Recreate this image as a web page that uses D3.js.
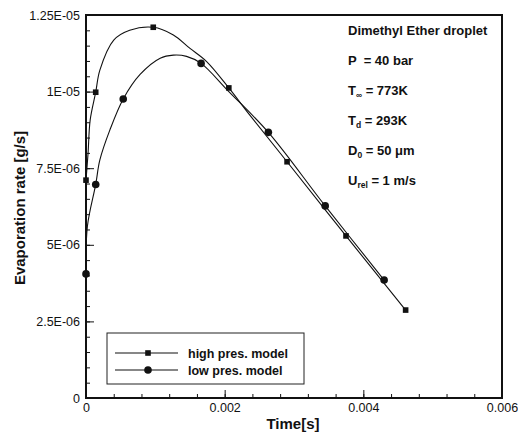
<!DOCTYPE html>
<html>
<head>
<meta charset="utf-8">
<script src="https://cdn.jsdelivr.net/npm/d3@7"></script>
<style>
  html, body { margin: 0; padding: 0; background: #fff; }
  svg { display: block; font-family: "Liberation Sans", Arial, sans-serif; }
</style>
</head>
<body>
<svg id="chart" width="518" height="434"></svg>
<script>
// Evaporation rate of a dimethyl ether droplet, two property models
const highCurveT    = [0, 0.00003, 0.00006, 0.00014, 0.0002, 0.0004, 0.00063, 0.00097, 0.00126, 0.0015, 0.00174, 0.00206, 0.00236, 0.0029, 0.00375, 0.00461];
const highCurveRate = [7.11e-6, 8.0e-6, 9.07e-6, 9.98e-6, 1.07e-5, 1.168e-5, 1.20e-5, 1.21e-5, 1.185e-5, 1.141e-5, 1.098e-5, 1.012e-5, 9.24e-6, 7.71e-6, 5.29e-6, 2.87e-6];
const highMarkT     = [0, 0.00014, 0.00097, 0.00206, 0.0029, 0.00375, 0.00461];
const highMarkRate  = [7.11e-6, 9.98e-6, 1.21e-5, 1.012e-5, 7.71e-6, 5.29e-6, 2.87e-6];

const lowCurveT    = [0, 0.00002, 0.00014, 0.0002, 0.000345, 0.000537, 0.00078, 0.00107, 0.00126, 0.00145, 0.00166, 0.00206, 0.00263, 0.00345, 0.0043];
const lowCurveRate = [4.05e-6, 5.6e-6, 6.97e-6, 7.77e-6, 8.75e-6, 9.76e-6, 1.056e-5, 1.109e-5, 1.119e-5, 1.115e-5, 1.092e-5, 1.0e-5, 8.67e-6, 6.27e-6, 3.85e-6];
const lowMarkT     = [0, 0.00014, 0.000537, 0.00166, 0.00263, 0.00345, 0.0043];
const lowMarkRate  = [4.05e-6, 6.97e-6, 9.76e-6, 1.092e-5, 8.67e-6, 6.27e-6, 3.85e-6];

const xTicks = [0, 0.002, 0.004, 0.006];
const xTickLabels = ["0", "0.002", "0.004", "0.006"];
const yTicks = [0, 2.5e-6, 5e-6, 7.5e-6, 1e-5, 1.25e-5];
const yTickLabels = ["0", "2.5E-06", "5E-06", "7.5E-06", "1E-05", "1.25E-05"];
const legendLabels = ["high pres. model", "low pres. model"];

const svg = d3.select("#chart");
const plotL = 86, plotR = 502, plotT = 15, plotB = 398;

const x = d3.scaleLinear().domain([0, 0.006]).range([plotL, plotR]);
const y = d3.scaleLinear().domain([0, 1.25e-5]).range([plotB, plotT]);

// minor ticks (inward)
const xMinor = d3.range(0, 0.006 + 1e-9, 0.0004);
const yMinor = d3.range(0, 1.25e-5 + 1e-12, 5e-7);

const axX = svg.append("g").attr("transform", `translate(0,${plotB})`);
axX.call(d3.axisBottom(x).tickValues(xMinor).tickSize(-4).tickFormat(""));
axX.append("g").call(d3.axisBottom(x).tickValues(xTicks).tickSize(-8).tickFormat((d, i) => xTickLabels[i]));
const axY = svg.append("g").attr("transform", `translate(${plotL},0)`);
axY.call(d3.axisLeft(y).tickValues(yMinor).tickSize(-4).tickFormat(""));
axY.append("g").call(d3.axisLeft(y).tickValues(yTicks).tickSize(-8).tickFormat((d, i) => yTickLabels[i]));

svg.selectAll(".domain").remove();
svg.selectAll(".tick line").attr("stroke", "#111").attr("stroke-width", 1);
svg.selectAll(".tick text").attr("fill", "#111").attr("font-size", 12.5);
axX.selectAll(".tick text").attr("y", 5).attr("dy", "0.71em");
axY.selectAll(".tick text").attr("x", -6);

// frame
svg.append("rect")
  .attr("x", plotL).attr("y", plotT)
  .attr("width", plotR - plotL).attr("height", plotB - plotT)
  .attr("fill", "none").attr("stroke", "#111").attr("stroke-width", 2);

// curves
const line = d3.line().x(d => x(d[0])).y(d => y(d[1])).curve(d3.curveCatmullRom.alpha(0.5));
const highPts = highCurveT.map((t, i) => [t, highCurveRate[i]]);
const lowPts = lowCurveT.map((t, i) => [t, lowCurveRate[i]]);

svg.append("path").datum(highPts).attr("d", line)
  .attr("fill", "none").attr("stroke", "#111").attr("stroke-width", 1.1);
svg.append("path").datum(lowPts).attr("d", line)
  .attr("fill", "none").attr("stroke", "#111").attr("stroke-width", 1.1);

// markers
svg.append("g").selectAll("rect")
  .data(highMarkT.map((t, i) => [t, highMarkRate[i]]))
  .join("rect")
  .attr("x", d => x(d[0]) - 2.8).attr("y", d => y(d[1]) - 2.8)
  .attr("width", 5.6).attr("height", 5.6).attr("fill", "#111");
svg.append("g").selectAll("circle")
  .data(lowMarkT.map((t, i) => [t, lowMarkRate[i]]))
  .join("circle")
  .attr("cx", d => x(d[0])).attr("cy", d => y(d[1]))
  .attr("r", 3.8).attr("fill", "#111");

// axis titles
svg.append("text")
  .attr("x", 293).attr("y", 429)
  .attr("text-anchor", "middle").attr("font-size", 15).attr("font-weight", "bold")
  .attr("fill", "#111").text("Time[s]");
svg.append("text")
  .attr("transform", `translate(25,208) rotate(-90)`)
  .attr("text-anchor", "middle").attr("font-size", 15).attr("font-weight", "bold")
  .attr("fill", "#111").text("Evaporation rate [g/s]");

// legend
const lg = svg.append("g");
lg.append("rect").attr("x", 107).attr("y", 333).attr("width", 197).attr("height", 51)
  .attr("fill", "#fff").attr("stroke", "#222").attr("stroke-width", 1);
legendLabels.forEach((lab, i) => {
  const yy = 353 + i * 17;
  lg.append("line").attr("x1", 115).attr("x2", 178).attr("y1", yy).attr("y2", yy)
    .attr("stroke", "#111").attr("stroke-width", 1.1);
  if (i === 0) {
    lg.append("rect").attr("x", 148 - 2.8).attr("y", yy - 2.8).attr("width", 5.6).attr("height", 5.6).attr("fill", "#111");
  } else {
    lg.append("circle").attr("cx", 148).attr("cy", yy).attr("r", 3.8).attr("fill", "#111");
  }
  lg.append("text").attr("x", 188).attr("y", yy + 4.5)
    .attr("font-size", 12.5).attr("font-weight", "bold").attr("fill", "#111").text(lab);
});

// run conditions
const ann = svg.append("g").attr("font-size", 13).attr("font-weight", "bold").attr("fill", "#111");
const ax0 = 348;
ann.append("text").attr("x", ax0).attr("y", 35).text("Dimethyl Ether droplet");
ann.append("text").attr("x", ax0).attr("y", 65).attr("xml:space", "preserve").text("P  = 40 bar");
function subText(yy, main, sub, rest) {
  const t = ann.append("text").attr("x", ax0).attr("y", yy);
  t.append("tspan").text(main);
  t.append("tspan").attr("dy", 3).attr("font-size", 8.5).text(sub);
  t.append("tspan").attr("dy", -3).text(rest);
}
subText(95, "T", "\u221e", " = 773K");
subText(125, "T", "d", " = 293K");
subText(155, "D", "0", " = 50 \u03bcm");
subText(185, "U", "rel", " = 1 m/s");
</script>
</body>
</html>
